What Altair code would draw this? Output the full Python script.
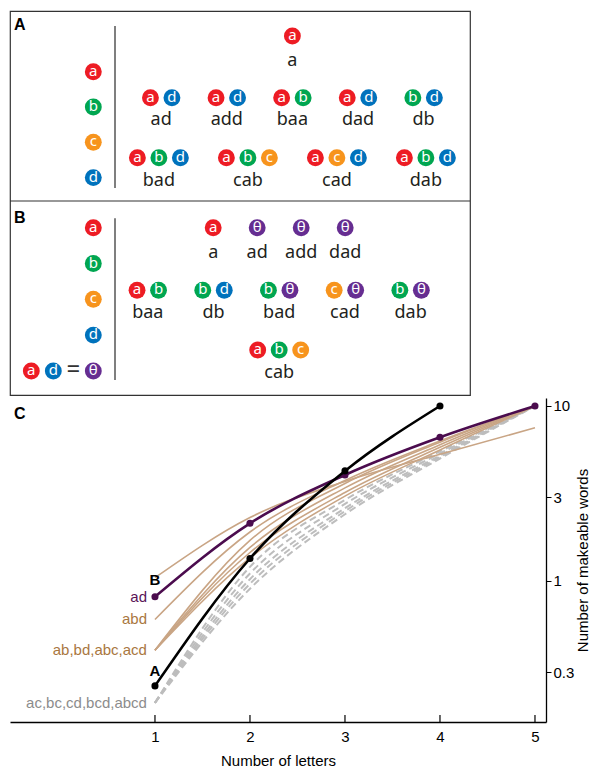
import altair as alt
import pandas as pd

# ---------------- data ----------------
letter_colors = {"a": "#ED1C24", "b": "#00A651", "c": "#F7941D", "d": "#0072BC", "θ": "#662D91"}
legend_letters = ["a", "b", "c", "d"]

# Panel A: words and the letter tiles that spell them, by row
a_rows_words = [["a"], ["ad", "add", "baa", "dad", "db"], ["bad", "cab", "cad", "dab"]]
a_rows_tiles = [
    [["a"]],
    [["a", "d"], ["a", "d"], ["a", "b"], ["a", "d"], ["b", "d"]],
    [["a", "b", "d"], ["a", "b", "c"], ["a", "c", "d"], ["a", "b", "d"]],
]
# Panel B: with the compound tile θ = a + d
b_rows_words = [["a", "ad", "add", "dad"], ["baa", "db", "bad", "cad", "dab"], ["cab"]]
b_rows_tiles = [
    [["a"], ["θ"], ["θ"], ["θ"]],
    [["a", "b"], ["b", "d"], ["b", "θ"], ["c", "θ"], ["b", "θ"]],
    [["a", "b", "c"]],
]
compound_parts = ["a", "d"]
compound_name = "θ"

# Panel C: number of makeable words vs number of letters
n_letters = [1, 2, 3, 4, 5]
words_A = [0.25, 1.34, 4.25, 10]
words_B = [0.81, 2.13, 4.03, 6.62, 10]
tan_series = {
    "t1": [1.04, 2.3, 3.7, 5.3, 7.5],
    "abd": [0.6, 1.9, 3.75, 6.3, 10],
    "ab": [0.4, 1.7, 3.6, 6.2, 10],
    "bd": [0.4, 1.55, 3.4, 6.0, 10],
    "abc": [0.4, 1.45, 3.2, 5.8, 10],
    "acd": [0.4, 1.35, 3.05, 5.6, 10],
}
gray_series = {
    "ac": [0.2, 1.2, 2.9, 5.5, 10],
    "bc": [0.2, 1.1, 2.75, 5.35, 10],
    "cd": [0.2, 1.02, 2.6, 5.2, 10],
    "bcd": [0.2, 0.96, 2.5, 5.1, 10],
    "abcd": [0.2, 0.9, 2.4, 5.0, 10],
}
c_labels = ["ad", "abd", "ab,bd,abc,acd", "ac,bc,cd,bcd,abcd"]
c_label_vals = [0.81, 0.6, 0.4, 0.2]
c_label_colors = ["#5A1458", "#A9773F", "#A9773F", "#8C8C8C"]

# ---------------- styles ----------------
WORD_FONT = "Noto Sans"
AX_FONT = "Liberation Sans"
PURPLE = "#4B0C4E"
TAN = "#C9A585"
GRAY = "#BDBDBD"
BOX_W = 460
A_H = 190
B_H = 194
GAP = 21.5


def layout_rows(rows_words, rows_tiles, center, spacings, circle_ys, word_ys, yoff):
    circles, words = [], []
    for r, (ws, ts) in enumerate(zip(rows_words, rows_tiles)):
        n = len(ws)
        for i, (w, t) in enumerate(zip(ws, ts)):
            cx = center + (i - (n - 1) / 2) * spacings[r]
            for j, l in enumerate(t):
                circles.append({"x": cx + (j - (len(t) - 1) / 2) * GAP, "y": circle_ys[r] + yoff, "letter": l})
            words.append({"x": cx, "y": word_ys[r] + yoff, "word": w})
    return circles, words


# Panel A (top part of the diagram)
circles, words = layout_rows(a_rows_words, a_rows_tiles, 282.4, [0, 65.6, 89.0],
                             [25, 86.7, 146.7], [50, 109.3, 170], 0)
for i, l in enumerate(legend_letters):
    circles.append({"x": 83.3, "y": 60.7 + i * 35.3, "letter": l})
# Panel B (lower part)
bc, bw = layout_rows(b_rows_words, b_rows_tiles, 269.2, [44, 65.7, 0],
                     [26.7, 89.3, 149], [51.7, 111.7, 171.7], A_H)
circles += bc
words += bw
for i, l in enumerate(legend_letters):
    circles.append({"x": 83.3, "y": A_H + 26.7 + i * 35.8, "letter": l})
circles.append({"x": 21.3, "y": A_H + 170, "letter": compound_parts[0]})
circles.append({"x": 43.3, "y": A_H + 170, "letter": compound_parts[1]})
circles.append({"x": 83.3, "y": A_H + 170, "letter": compound_name})
extra = [{"x": 63.3, "y": A_H + 170, "t": "="}]
seps = [{"x": 105, "y": 15, "y2": 177}, {"x": 105, "y": A_H + 17.3, "y2": A_H + 179}]
panel_labels = [{"t": "A", "x": 4, "y": 14}, {"t": "B", "x": 4, "y": A_H + 17}]

xs = alt.Scale(domain=[0, BOX_W], nice=False, zero=False)
ys = alt.Scale(domain=[0, A_H + B_H], nice=False, zero=False, reverse=True)
X = alt.X("x:Q", scale=xs, axis=None)
Y = alt.Y("y:Q", scale=ys, axis=None)
cdf = pd.DataFrame(circles)

circ = alt.Chart(cdf).mark_circle(size=285, opacity=1).encode(
    x=X, y=Y,
    color=alt.Color("letter:N", scale=alt.Scale(domain=list(letter_colors.keys()),
                                                range=list(letter_colors.values())), legend=None),
)
ctext = alt.Chart(cdf).mark_text(color="white", fontSize=15, font=WORD_FONT,
                                  baseline="middle", dy=-1).encode(x=X, y=Y, text="letter:N")
wtext = alt.Chart(pd.DataFrame(words)).mark_text(color="#231F20", fontSize=18, font=WORD_FONT,
                                                  baseline="middle").encode(x=X, y=Y, text="word:N")
eq = alt.Chart(pd.DataFrame(extra)).mark_text(color="#333", fontSize=24, font=WORD_FONT,
                                               baseline="middle", dy=-1).encode(x=X, y=Y, text="t:N")
sep = alt.Chart(pd.DataFrame(seps)).mark_rule(color="#555", strokeWidth=1.5).encode(x=X, y=Y, y2="y2:Q")
divider = alt.Chart(pd.DataFrame([{"x": 0, "x2": BOX_W, "y": A_H}])).mark_rule(
    color="#333", strokeWidth=1.2).encode(x=X, x2="x2:Q", y=Y)
plab = alt.Chart(pd.DataFrame(panel_labels)).mark_text(
    fontSize=16, fontWeight="bold", font=AX_FONT, align="left", baseline="middle", color="black"
).encode(text="t:N", x=X, y=Y)

panelAB = alt.layer(sep, divider, circ, ctext, wtext, eq, plab).properties(
    width=BOX_W, height=A_H + B_H, view=alt.ViewBackground(stroke="#333", strokeWidth=1.2))

# Panel C
CW, CH = 536, 324
xsc = alt.Scale(domain=[-0.526, 5.116], nice=False, zero=False)
ysc = alt.Scale(type="log", domain=[0.1553, 11.11], nice=False)


def long(series):
    rows = []
    for k, v in series.items():
        for x, y in zip(n_letters, v):
            rows.append({"s": k, "x": x, "y": y})
    return pd.DataFrame(rows)


gdf = long(gray_series)
tdf = long(tan_series)
bdf = pd.DataFrame({"x": n_letters, "y": words_B})
adf = pd.DataFrame({"x": n_letters[:len(words_A)], "y": words_A})

XC = alt.X("x:Q", scale=xsc, axis=alt.Axis(values=n_letters, format="d", ticks=False, grid=False,
                                           title="Number of letters",
                                           labelFontSize=15, titleFontSize=15, labelFont=AX_FONT, titleFont=AX_FONT,
                                           titleFontWeight="normal", domainColor="black", domainWidth=1.3,
                                           labelPadding=7, titlePadding=9, labelColor="black", titleColor="black"))
YC = alt.Y("y:Q", scale=ysc, axis=alt.Axis(orient="right", values=[0.3, 1, 3, 10], format="~g", grid=False,
                                           title="Number of makeable words", titleAngle=270,
                                           labelFontSize=15, titleFontSize=15, labelFont=AX_FONT, titleFont=AX_FONT,
                                           titleFontWeight="normal", domainColor="black", domainWidth=1.3,
                                           tickColor="black", tickSize=5, labelPadding=2, titlePadding=17,
                                           labelColor="black", titleColor="black"))

gray_l = alt.Chart(gdf).mark_line(color=GRAY, strokeWidth=2, strokeDash=[7, 4], interpolate="monotone").encode(
    x=XC, y=YC, detail="s:N")
tan_l = alt.Chart(tdf).mark_line(color=TAN, strokeWidth=1.6, interpolate="monotone").encode(
    x="x:Q", y="y:Q", detail="s:N")
b_l = alt.Chart(bdf).mark_line(color=PURPLE, strokeWidth=2.6, interpolate="monotone").encode(x="x:Q", y="y:Q")
b_p = alt.Chart(bdf).mark_circle(color=PURPLE, size=50, opacity=1).encode(x="x:Q", y="y:Q")
a_l = alt.Chart(adf).mark_line(color="black", strokeWidth=2.6, interpolate="monotone").encode(x="x:Q", y="y:Q")
a_p = alt.Chart(adf).mark_circle(color="black", size=50, opacity=1).encode(x="x:Q", y="y:Q")

label_layers = []
for t, v, c in zip(c_labels, c_label_vals, c_label_colors):
    label_layers.append(
        alt.Chart(pd.DataFrame({"t": [t], "x": [1], "y": [v]})).mark_text(
            align="right", baseline="middle", dx=-8, fontSize=15, font=AX_FONT, color=c
        ).encode(x="x:Q", y="y:Q", text="t:N"))
labB = alt.Chart(pd.DataFrame({"t": ["B"], "x": [1], "y": [words_B[0]]})).mark_text(
    fontSize=15, fontWeight="bold", font=AX_FONT, dy=-17, baseline="middle", color="black").encode(
    x="x:Q", y="y:Q", text="t:N")
labA = alt.Chart(pd.DataFrame({"t": ["A"], "x": [1], "y": [words_A[0]]})).mark_text(
    fontSize=15, fontWeight="bold", font=AX_FONT, dy=-15, baseline="middle", color="black").encode(
    x="x:Q", y="y:Q", text="t:N")
ticks = alt.Chart(pd.DataFrame({"x": n_letters})).mark_rule(color="black", strokeWidth=1.2).encode(
    x="x:Q", y=alt.value(CH - 7), y2=alt.value(CH))
labC = alt.Chart(pd.DataFrame({"t": ["C"]})).mark_text(
    fontSize=16, fontWeight="bold", font=AX_FONT, align="left", baseline="middle", color="black").encode(
    text="t:N", x=alt.value(4), y=alt.value(16))

panelC = alt.layer(gray_l, tan_l, b_l, b_p, a_l, a_p, *label_layers, labB, labA, ticks, labC).properties(
    width=CW, height=CH)

chart = alt.vconcat(panelAB, panelC, spacing=2).properties(
    padding={"left": 0, "top": 2, "right": 0, "bottom": 0}
).configure_view(strokeWidth=0)

chart.save("out.html", embed_options={"renderer": "svg", "actions": False})
